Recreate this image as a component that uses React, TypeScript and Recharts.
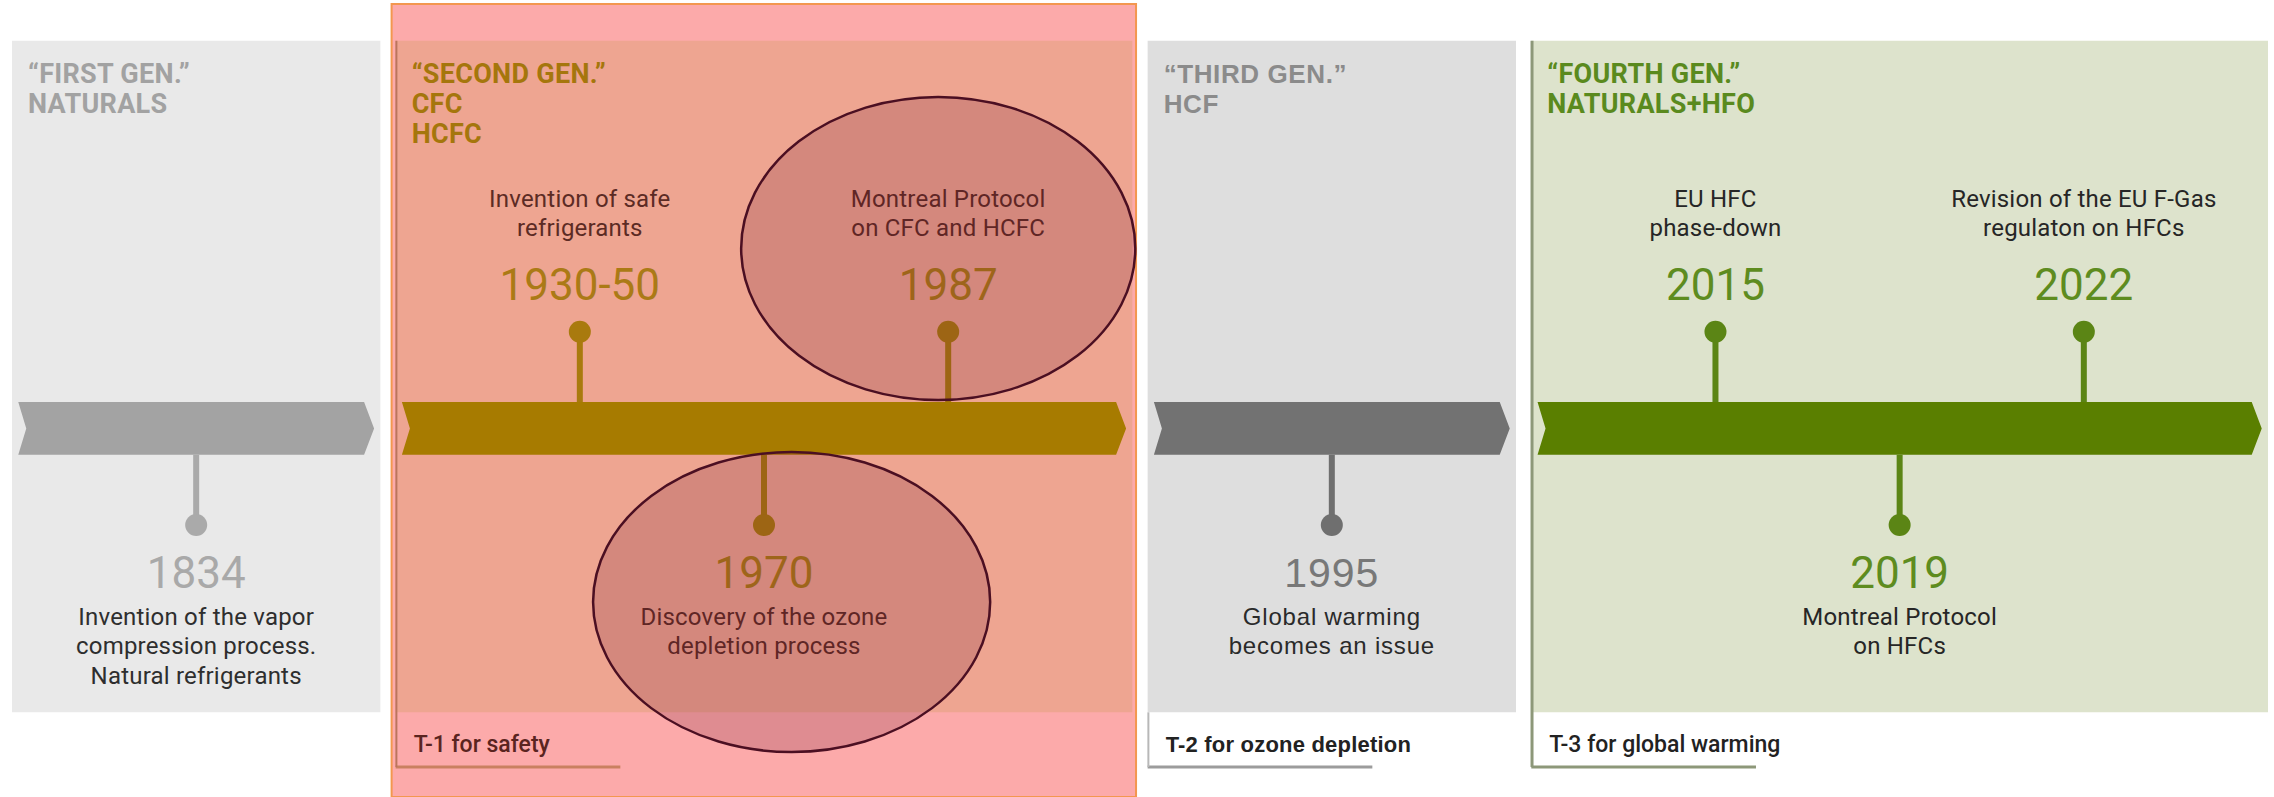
import React from "react";
import {
  ScatterChart,
  Scatter,
  XAxis,
  YAxis,
  ReferenceArea,
  ReferenceLine,
} from "recharts";

// ---- data ----
const GEN_TITLES = [
  ["“FIRST GEN.”", "NATURALS"],
  ["“SECOND GEN.”", "CFC", "HCFC"],
  ["“THIRD GEN.”", "HCF"],
  ["“FOURTH GEN.”", "NATURALS+HFO"],
];
const GEN_FOOTERS = ["", "T-1 for safety", "T-2 for ozone depletion", "T-3 for global warming"];

const EVENT_YEARS = ["1834", "1930-50", "1970", "1987", "1995", "2015", "2019", "2022"];
const EVENT_GEN = [0, 1, 1, 1, 2, 3, 3, 3];
const EVENT_SIDE = ["down", "up", "down", "up", "down", "up", "down", "up"];
const EVENT_NOTES = [
  ["Invention of the vapor", "compression process.", "Natural refrigerants"],
  ["Invention of safe", "refrigerants"],
  ["Discovery of the ozone", "depletion process"],
  ["Montreal Protocol", "on CFC and HCFC"],
  ["Global warming", "becomes an issue"],
  ["EU HFC", "phase-down"],
  ["Montreal Protocol", "on HFCs"],
  ["Revision of the EU F-Gas", "regulaton on HFCs"],
];
const HIGHLIGHTED = ["1987", "1970"];

// ---- layout (chart units) ----
const W = 2274;
const H = 797;
const X_GAP = 0.0415;
const Y_MIN = -3.7;
const Y_MAX = 4.3;
const PANEL_TOP = 3.89;
const PANEL_BOTTOM = -2.85;
const BAR_HALF = 0.265;
const BAR_INSET = 0.017;
const DOT_Y = 0.97;
const YEAR_Y = 1.445;
const NOTE_UP_Y = 2.01;
const NOTE_DOWN_Y = -1.89;
const TITLE_Y = 3.468;
const FOOTER_Y = -3.17;
const FOOTER_RULE_Y = -3.4;
const FOOTER_RULE_LEN = 0.61;
const LINE_H = 29.5;
const ELLIPSES = [
  { dx: -0.027, cy: 1.806, rx: 0.535, ry: 1.521 },
  { dx: 0.075, cy: -1.743, rx: 0.539, ry: 1.506 },
];

// ---- styles ----
const THEME = [
  { panel: "#e9e9e9", bar: "#a3a3a3", mark: "#aaaaaa", year: "#a9a9a9", title: "#a2a2a2", text: "#2e2e2e", foot: "#222", rule: "none", border: "none" },
  { panel: "#eea591", bar: "#a77b00", mark: "#a97a0e", year: "#ab7a16", title: "#a5760c", text: "#5c2b24", foot: "#5a2420", rule: "#c98060", border: "#bb745d" },
  { panel: "#dedede", bar: "#727272", mark: "#6f6f6f", year: "#787878", title: "#8b8b8b", text: "#2a2a2a", foot: "#222", rule: "#9c9c9c", border: "#b8b8b8" },
  { panel: "#dde3cc", bar: "#5a7f00", mark: "#5b8515", year: "#5e8c1f", title: "#5a8a1e", text: "#262626", foot: "#222", rule: "#8d9879", border: "#8d9879" },
];
const ROBOTO = {
  family: "Roboto, 'Noto Sans', sans-serif",
  title: { size: 27, weight: 700, ls: 0.3 },
  year: { size: 44, weight: 400, ls: 0 },
  note: { size: 24, weight: 400, ls: 0.2 },
  footer: { size: 23, weight: 500, ls: 0 },
};
const LIBERATION = {
  family: "'Liberation Sans', Arial, sans-serif",
  title: { size: 26, weight: 700, ls: 0.6 },
  year: { size: 41, weight: 400, ls: 1 },
  note: { size: 24, weight: 400, ls: 0.8 },
  footer: { size: 22, weight: 700, ls: 0.2 },
};
const typeOf = (g: number) => (g === 2 ? LIBERATION : ROBOTO);

// ---- derived ----
const spans = GEN_TITLES.map((_, g) => (EVENT_GEN.filter((e) => e === g).length + 1) / 2);
const starts = spans.map((_, i) => spans.slice(0, i).reduce((a, b) => a + b, 0) + i * X_GAP);
const X_MAX = starts[starts.length - 1] + spans[spans.length - 1];

const events = EVENT_YEARS.map((year, i) => {
  const g = EVENT_GEN[i];
  const siblings = EVENT_GEN.map((e, j) => ({ e, j })).filter((o) => o.e === g);
  const k = siblings.findIndex((o) => o.j === i);
  const x = starts[g] + (spans[g] * (k + 1)) / (siblings.length + 1);
  const s = EVENT_SIDE[i] === "up" ? 1 : -1;
  return { year, g, x, s, notes: EVENT_NOTES[i] };
});

const dotData = events.map((e) => ({ x: e.x, y: e.s * DOT_Y, g: e.g }));
const yearData = events.map((e) => ({ x: e.x, y: e.s * YEAR_Y, g: e.g, label: e.year }));
const noteData = events.map((e) => ({
  x: e.x,
  y: e.s > 0 ? NOTE_UP_Y : NOTE_DOWN_Y,
  g: e.g,
  lines: e.notes,
  up: e.s > 0,
}));
const titleData = GEN_TITLES.map((lines, g) => ({ x: starts[g], y: TITLE_Y, g, lines }));
const footerData = GEN_FOOTERS.map((label, g) => ({ x: starts[g], y: FOOTER_Y, g, label })).filter(
  (f) => f.label
);

const pl = (p: any) => p.payload ?? p;

const DotShape = (p: any) => (
  <circle cx={p.cx} cy={p.cy} r={11} fill={THEME[pl(p).g].mark} />
);

const YearShape = (p: any) => {
  const d = pl(p);
  const t = typeOf(d.g);
  return (
    <text
      x={p.cx}
      y={p.cy + t.year.size * 0.355}
      textAnchor="middle"
      fontFamily={t.family}
      fontSize={t.year.size}
      fontWeight={t.year.weight}
      letterSpacing={t.year.ls}
      fill={THEME[d.g].year}
    >
      {d.label}
    </text>
  );
};

const NoteShape = (p: any) => {
  const d = pl(p);
  const t = typeOf(d.g);
  const n = d.lines.length;
  return (
    <text
      textAnchor="middle"
      fontFamily={t.family}
      fontSize={t.note.size}
      fontWeight={t.note.weight}
      letterSpacing={t.note.ls}
      fill={THEME[d.g].text}
    >
      {d.lines.map((line: string, i: number) => (
        <tspan key={i} x={p.cx} y={p.cy + 8 + (d.up ? -(n - 1 - i) : i) * LINE_H}>
          {line}
        </tspan>
      ))}
    </text>
  );
};

const TitleShape = (p: any) => {
  const d = pl(p);
  const t = typeOf(d.g);
  return (
    <text
      fontFamily={t.family}
      fontSize={t.title.size}
      fontWeight={t.title.weight}
      letterSpacing={t.title.ls}
      fill={THEME[d.g].title}
    >
      {d.lines.map((line: string, i: number) => (
        <tspan key={i} x={p.cx + 16} y={p.cy + i * 30}>
          {line}
        </tspan>
      ))}
    </text>
  );
};

const FooterShape = (p: any) => {
  const d = pl(p);
  const t = typeOf(d.g);
  return (
    <text
      x={p.cx + 18}
      y={p.cy + 8}
      fontFamily={t.family}
      fontSize={t.footer.size}
      fontWeight={t.footer.weight}
      letterSpacing={t.footer.ls}
      fill={THEME[d.g].foot}
    >
      {d.label}
    </text>
  );
};

// arrow-like timeline segment: notch on the left, point on the right
const arrowShape = (color: string) => (p: any) => {
  const { x, y, width, height } = p;
  const notch = 8;
  const tip = 10;
  const pts = [
    [x, y],
    [x + width - tip, y],
    [x + width, y + height / 2],
    [x + width - tip, y + height],
    [x, y + height],
    [x + notch, y + height / 2],
  ]
    .map((q) => q.join(","))
    .join(" ");
  return <polygon points={pts} fill={color} />;
};

const ellipseShape = (p: any) => (
  <ellipse
    cx={p.x + p.width / 2}
    cy={p.y + p.height / 2}
    rx={p.width / 2}
    ry={p.height / 2}
    fill="rgba(108,20,46,0.2)"
    stroke="#4b0f22"
    strokeWidth={2.5}
  />
);

export default function App() {
  const g2 = 1;
  return (
    <div style={{ position: "absolute", left: 0, top: 0, width: W, height: H, background: "#fff" }}>
      <ScatterChart width={W} height={H} margin={{ top: 0, right: 6, bottom: 0, left: 12 }}>
        <XAxis type="number" dataKey="x" domain={[0, X_MAX]} allowDataOverflow hide />
        <YAxis type="number" dataKey="y" domain={[Y_MIN, Y_MAX]} allowDataOverflow hide />

        {/* highlight box behind the second generation */}
        <ReferenceArea
          x1={starts[g2] - 0.011}
          x2={starts[g2] + spans[g2] + 0.01}
          y1={Y_MIN}
          y2={4.26}
          fill="#fcaaaa"
          fillOpacity={1}
          stroke="#f3974f"
          strokeWidth={2}
          ifOverflow="visible"
          zIndex={1}
        />

        {/* generation panels */}
        {GEN_TITLES.map((_, g) => (
          <ReferenceArea
            key={`panel-${g}`}
            x1={starts[g]}
            x2={starts[g] + spans[g]}
            y1={PANEL_BOTTOM}
            y2={PANEL_TOP}
            fill={THEME[g].panel}
            fillOpacity={1}
            ifOverflow="visible"
            zIndex={2}
          />
        ))}

        {/* footer rules and left borders */}
        {GEN_FOOTERS.map((label, g) =>
          label ? (
            <ReferenceLine
              key={`rule-${g}`}
              segment={[
                { x: starts[g], y: FOOTER_RULE_Y },
                { x: starts[g] + FOOTER_RULE_LEN, y: FOOTER_RULE_Y },
              ]}
              stroke={THEME[g].rule}
              strokeWidth={3}
              ifOverflow="visible"
              zIndex={3}
            />
          ) : null
        )}
        {GEN_FOOTERS.map((label, g) =>
          label ? (
            <ReferenceLine
              key={`border-${g}`}
              segment={[
                { x: starts[g] + 0.002, y: g === 2 ? PANEL_BOTTOM : PANEL_TOP },
                { x: starts[g] + 0.002, y: FOOTER_RULE_Y },
              ]}
              stroke={THEME[g].border}
              strokeWidth={g === 3 ? 3 : 2}
              ifOverflow="visible"
              zIndex={3}
            />
          ) : null
        )}

        {/* timeline arrows */}
        {GEN_TITLES.map((_, g) => (
          <ReferenceArea
            key={`bar-${g}`}
            x1={starts[g] + BAR_INSET}
            x2={starts[g] + spans[g] - BAR_INSET}
            y1={-BAR_HALF}
            y2={BAR_HALF}
            shape={arrowShape(THEME[g].bar)}
            ifOverflow="visible"
            zIndex={4}
          />
        ))}

        {/* stems */}
        {events.map((e, i) => (
          <ReferenceLine
            key={`stem-${i}`}
            segment={[
              { x: e.x, y: e.s * BAR_HALF },
              { x: e.x, y: e.s * DOT_Y },
            ]}
            stroke={THEME[e.g].mark}
            strokeWidth={6}
            ifOverflow="visible"
            zIndex={5}
          />
        ))}

        <Scatter data={dotData} shape={DotShape} isAnimationActive={false} zIndex={6} />
        <Scatter data={yearData} shape={YearShape} isAnimationActive={false} zIndex={6} />
        <Scatter data={noteData} shape={NoteShape} isAnimationActive={false} zIndex={6} />
        <Scatter data={titleData} shape={TitleShape} isAnimationActive={false} zIndex={6} />
        <Scatter data={footerData} shape={FooterShape} isAnimationActive={false} zIndex={6} />

        {/* circled events */}
        {HIGHLIGHTED.map((year, i) => {
          const e = events.find((ev) => ev.year === year)!;
          const o = ELLIPSES[i];
          return (
            <ReferenceArea
              key={`hl-${year}`}
              x1={e.x + o.dx - o.rx}
              x2={e.x + o.dx + o.rx}
              y1={o.cy - o.ry}
              y2={o.cy + o.ry}
              shape={ellipseShape}
              ifOverflow="visible"
              zIndex={10}
            />
          );
        })}
      </ScatterChart>
    </div>
  );
}
